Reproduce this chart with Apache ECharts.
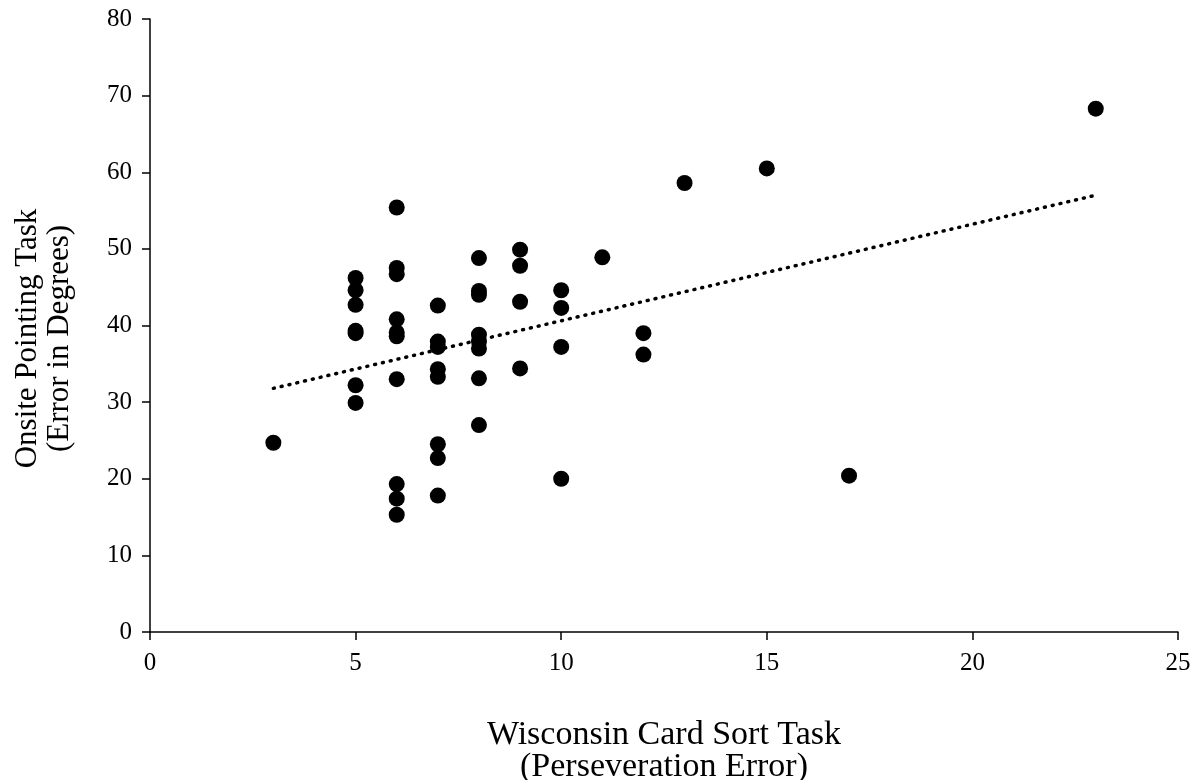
<!DOCTYPE html>
<html>
<head>
<meta charset="utf-8">
<script src="https://cdn.jsdelivr.net/npm/echarts@6/dist/echarts.min.js"></script>
<style>
  html, body { margin: 0; padding: 0; background: #fff; }
  #chart { width: 1202px; height: 780px; }
</style>
</head>
<body>
<div id="chart"></div>
<script>
// perseveration errors (x) and pointing error in degrees (y)
var wcstErrors = [3,
    5, 5, 5, 5, 5, 5, 5,
    6, 6, 6, 6, 6, 6, 6, 6, 6, 6,
    7, 7, 7, 7, 7, 7, 7, 7,
    8, 8, 8, 8, 8, 8, 8, 8,
    9, 9, 9, 9,
    10, 10, 10, 10,
    11, 12, 12, 13, 15, 17, 23];
var pointingError = [24.7,
    46.2, 44.6, 42.7, 39.3, 39.0, 32.2, 29.9,
    55.4, 47.5, 46.7, 40.8, 39.1, 38.6, 33.0, 19.3, 17.4, 15.3,
    42.6, 37.9, 37.2, 34.3, 33.3, 24.5, 22.7, 17.8,
    48.8, 44.5, 44.0, 38.8, 37.9, 37.0, 33.1, 27.0,
    49.9, 47.8, 43.1, 34.4,
    44.6, 42.3, 37.2, 20.0,
    48.9, 39.0, 36.2, 58.6, 60.5, 20.4, 68.3];
// linear trend line ends
var trendX = [3, 23];
var trendY = [31.8, 57.0];

var xTicks = [0, 5, 10, 15, 20, 25];
var yTicks = [0, 10, 20, 30, 40, 50, 60, 70, 80];

var font = '"Liberation Serif", "DejaVu Serif", serif';

var chart = echarts.init(document.getElementById('chart'));

var points = wcstErrors.map(function(x, i) { return [x, pointingError[i]]; });
var trend = trendX.map(function(x, i) { return [x, trendY[i]]; });

var axisCommon = {
    type: 'value',
    splitLine: { show: false },
    axisLine: { show: true, onZero: false, lineStyle: { color: '#000', width: 1.5 } },
    axisTick: { show: true, length: 8, lineStyle: { color: '#000', width: 1.5 } },
    axisLabel: { color: '#000', fontFamily: font, fontSize: 25 }
};

chart.setOption({
    animation: false,
    backgroundColor: '#fff',
    grid: { left: 150, right: 24, top: 19, bottom: 148, containLabel: false, outerBoundsMode: 'none' },
    xAxis: Object.assign({}, axisCommon, {
        min: xTicks[0],
        max: xTicks[xTicks.length - 1],
        interval: 5,
        name: 'Wisconsin Card Sort Task\n(Perseveration Error)',
        nameLocation: 'middle',
        nameGap: 87,
        nameTextStyle: { color: '#000', fontFamily: font, fontSize: 34, lineHeight: 32 },
        axisLabel: Object.assign({}, axisCommon.axisLabel, { margin: 19 })
    }),
    yAxis: Object.assign({}, axisCommon, {
        min: yTicks[0],
        max: yTicks[yTicks.length - 1],
        interval: 10,
        name: 'Onsite Pointing Task\n(Error in Degrees)',
        nameLocation: 'middle',
        nameGap: 74,
        // nudge the title a little below the axis middle
        nameTextStyle: { color: '#000', fontFamily: font, fontSize: 31, lineHeight: 32, padding: [0, 26, 0, 0] },
        axisLabel: Object.assign({}, axisCommon.axisLabel, { margin: 18 })
    }),
    series: [
        {
            type: 'line',
            data: trend,
            symbol: 'none',
            lineStyle: { color: '#000', width: 3.5, type: [1, 7], cap: 'round' },
            z: 1
        },
        {
            type: 'scatter',
            data: points,
            symbolSize: 16,
            itemStyle: { color: '#000', opacity: 1 },
            z: 2
        }
    ]
});
</script>
</body>
</html>
